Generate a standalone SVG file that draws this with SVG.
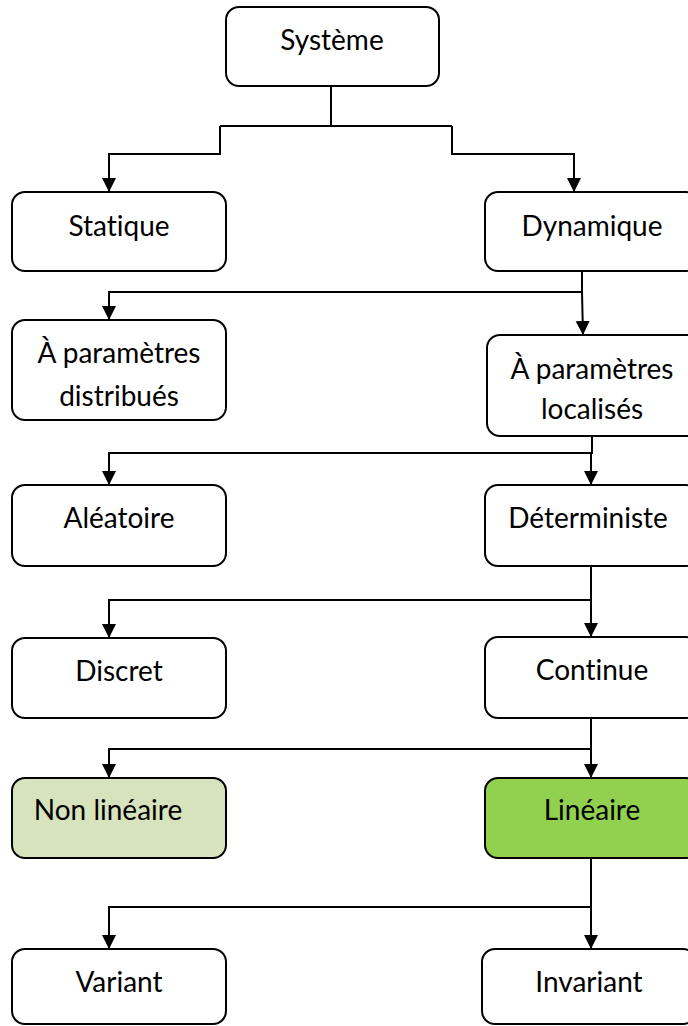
<svg xmlns="http://www.w3.org/2000/svg" width="688" height="1026" viewBox="0 0 688 1026">
<style>
.box{fill:#fff;stroke:#000;stroke-width:2}
.lbl{font-family:Lato,"Liberation Sans",sans-serif;font-size:28px;fill:#000;text-anchor:middle;font-variant-ligatures:none;font-feature-settings:"liga" 0}
.con{fill:none;stroke:#000;stroke-width:2}
</style>
<defs>
<marker id="arr" markerUnits="userSpaceOnUse" markerWidth="16" markerHeight="16" refX="14" refY="7" orient="auto">
<path d="M0,0 L14,7 L0,14 z" fill="#000"/>
</marker>
</defs>
<rect width="688" height="1026" fill="#fff"/>
<g id="connectors">
<path class="con" d="M331,86 V126 M220,126 H452"/>
<path class="con" d="M220,126 V154 H109 V192" marker-end="url(#arr)"/>
<path class="con" d="M452,126 V154 H574 V192" marker-end="url(#arr)"/>
<path class="con" d="M582,271 V292 H109 V320" marker-end="url(#arr)"/>
<path class="con" d="M582,292 L583,335" marker-end="url(#arr)"/>
<path class="con" d="M592,436 V453 H109 V485" marker-end="url(#arr)"/>
<path class="con" d="M591,453 V485" marker-end="url(#arr)"/>
<path class="con" d="M591,566 V600 H109 V638" marker-end="url(#arr)"/>
<path class="con" d="M591,600 V637" marker-end="url(#arr)"/>
<path class="con" d="M591,718 V749 H109 V778" marker-end="url(#arr)"/>
<path class="con" d="M591,749 V778" marker-end="url(#arr)"/>
<path class="con" d="M591,858 V907 H109 V949" marker-end="url(#arr)"/>
<path class="con" d="M591,907 V949" marker-end="url(#arr)"/>
</g>
<g id="systeme"><rect class="box" x="226" y="7" width="213" height="79" rx="13"/><text class="lbl" x="332" y="50">Système</text></g>
<g id="statique"><rect class="box" x="12" y="192" width="214" height="79" rx="13"/><text class="lbl" x="119" y="236">Statique</text></g>
<g id="dynamique"><rect class="box" x="485" y="192" width="214" height="79" rx="13"/><text class="lbl" x="592" y="236">Dynamique</text></g>
<g id="distribues"><rect class="box" x="12" y="320" width="214" height="100" rx="13"/><text class="lbl" x="119" y="363">À paramètres</text><text class="lbl" x="119" y="406">distribués</text></g>
<g id="localises"><rect class="box" x="487" y="335" width="214" height="101" rx="13"/><text class="lbl" x="592" y="379">À paramètres</text><text class="lbl" x="592" y="419">localisés</text></g>
<g id="aleatoire"><rect class="box" x="12" y="485" width="214" height="81" rx="13"/><text class="lbl" x="119" y="528">Aléatoire</text></g>
<g id="deterministe"><rect class="box" x="485" y="485" width="214" height="81" rx="13"/><text class="lbl" x="588" y="528">Déterministe</text></g>
<g id="discret"><rect class="box" x="12" y="638" width="214" height="80" rx="13"/><text class="lbl" x="119" y="681">Discret</text></g>
<g id="continue"><rect class="box" x="485" y="637" width="214" height="81" rx="13"/><text class="lbl" x="592" y="680">Continue</text></g>
<g id="nonlineaire"><rect class="box" x="12" y="778" width="214" height="80" rx="13" style="fill:#d6e3bc"/><text class="lbl" x="108" y="820">Non linéaire</text></g>
<g id="lineaire"><rect class="box" x="485" y="778" width="214" height="80" rx="13" style="fill:#92d050"/><text class="lbl" x="592" y="820">Linéaire</text></g>
<g id="variant"><rect class="box" x="12" y="949" width="214" height="75" rx="13"/><text class="lbl" x="119" y="992">Variant</text></g>
<g id="invariant"><rect class="box" x="482" y="949" width="214" height="75" rx="13"/><text class="lbl" x="589" y="992">Invariant</text></g>
</svg>
